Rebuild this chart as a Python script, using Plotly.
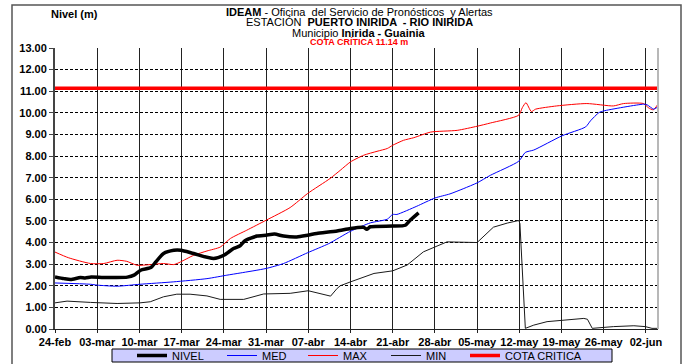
import pandas as pd
import plotly.graph_objects as go

# ---- datos (días contados desde el 24-feb) ----
inicio = pd.Timestamp("2011-02-24")

dias_nivel = [0, 1.5, 2.6, 4.2, 5, 6, 8, 10, 12, 13.1, 14.2, 15.9, 16.7, 18, 19.7,
              20.9, 23, 26.3, 28, 29.6, 30.7, 31.5, 33.5, 35, 36.4, 37.9, 40.1,
              41.9, 43.4, 46.8, 49, 51.2, 51.7, 52.3, 56, 58.1, 58.9, 60.3]
nivel = [2.41, 2.33, 2.29, 2.38, 2.36, 2.40, 2.38, 2.38, 2.40, 2.49, 2.72, 2.84,
         3.10, 3.49, 3.64, 3.64, 3.49, 3.26, 3.41, 3.72, 3.85, 4.08, 4.30, 4.34,
         4.39, 4.30, 4.26, 4.34, 4.42, 4.53, 4.65, 4.70, 4.61, 4.73, 4.76, 4.80,
         5.03, 5.37]

dias_med = [0, 5.9, 7, 10.3, 14.1, 19.6, 25.2, 28.5, 30.7, 35, 37.9, 41.9, 45.4,
            49, 52.3, 55.1, 56, 56.7, 60, 63, 65.5, 67.8, 70, 72.2, 76.9, 78,
            79.4, 84.1, 88, 88.8, 90.2, 91, 97.6, 98.2, 99.3, 100]
med = [2.13, 2.07, 2.03, 1.98, 2.07, 2.18, 2.33, 2.49, 2.59, 2.80, 3.03, 3.53,
       3.95, 4.52, 4.91, 5.08, 5.30, 5.30, 5.68, 6.06, 6.25, 6.50, 6.76, 7.11,
       7.76, 8.17, 8.28, 8.94, 9.35, 9.63, 10.01, 10.09, 10.40, 10.37, 10.17,
       10.28]

dias_max = [0, 2.2, 5.9, 8.1, 10.3, 11.9, 13.6, 15.8, 18, 19.7, 20.8, 23, 25.2,
            27.4, 29.1, 31.8, 35, 39, 41.9, 45.6, 47.3, 49, 51.2, 53.4, 55.1, 56,
            57.8, 59.5, 62.3, 66.7, 70, 72.2, 76.9, 77.5, 78.1, 79, 79.7, 83.2,
            88.2, 92.6, 94.3, 97.6, 98.4, 99.2, 100]
maximo = [3.56, 3.30, 3.03, 3.03, 3.18, 3.13, 2.95, 2.98, 3.03, 2.98, 3.10, 3.41,
          3.61, 3.79, 4.19, 4.57, 5.03, 5.62, 6.27, 6.96, 7.34, 7.73, 8.04, 8.22,
          8.35, 8.50, 8.73, 8.85, 9.11, 9.19, 9.38, 9.53, 9.89, 10.24, 10.47,
          10.06, 10.17, 10.32, 10.43, 10.32, 10.43, 10.43, 10.24, 10.14, 10.40]

dias_min = [0, 2, 5.9, 10.3, 14.1, 15.8, 18, 20.2, 22.4, 25.2, 27.4, 31.3, 34.6,
            39, 42, 45.7, 46.8, 47.3, 49, 51.2, 52.9, 56, 58.4, 61.1, 63, 65, 70,
            72.7, 75, 76.9, 77.1, 78, 79.4, 81.6, 87.7, 88.3, 89.1, 92.6, 96,
            97.9, 99, 100]
minimo = [1.21, 1.29, 1.23, 1.18, 1.21, 1.26, 1.49, 1.61, 1.61, 1.53, 1.37, 1.37,
          1.62, 1.65, 1.77, 1.52, 1.88, 2.00, 2.18, 2.42, 2.57, 2.69, 2.96, 3.57,
          3.80, 4.03, 4.00, 4.71, 4.90, 5.02, 4.88, 0.03, 0.18, 0.34, 0.49, 0.45,
          0.03, 0.11, 0.15, 0.11, 0.03, 0.03]

cota_critica = 11.14
dias_rango = [0, 100]

etiquetas_x = ["24-feb", "03-mar", "10-mar", "17-mar", "24-mar", "31-mar",
               "07-abr", "14-abr", "21-abr", "28-abr", "05-may", "12-may",
               "19-may", "26-may", "02-jun"]
valores_y = [0, 1, 2, 3, 4, 5, 6, 7, 8, 9, 10, 11, 12, 13]


def fechas(dias):
    return inicio + pd.to_timedelta(dias, unit="D")


W, H = 687, 364
ML, MR, MT, MB = 55, 29, 48, 35
PW, PH = W - ML - MR, H - MT - MB


def px(x):
    return (x - ML) / PW


def py(y):
    return (H - MB - y) / PH


FONT = "Arial, Liberation Sans, sans-serif"

fig = go.Figure()

fig.add_trace(go.Scatter(
    x=fechas(dias_rango), y=[cota_critica] * 2, name="COTA CRITICA",
    mode="lines", line=dict(color="#ff0000", width=3.5), legend="legend5"))
fig.add_trace(go.Scatter(
    x=fechas(dias_min), y=minimo, name="MIN", mode="lines",
    line=dict(color="#1a1a1a", width=1), legend="legend4"))
fig.add_trace(go.Scatter(
    x=fechas(dias_max), y=maximo, name="MAX", mode="lines",
    line=dict(color="#ff0000", width=1, shape="spline", smoothing=0.6),
    legend="legend3"))
fig.add_trace(go.Scatter(
    x=fechas(dias_med), y=med, name="MED", mode="lines",
    line=dict(color="#0000ff", width=1, shape="spline", smoothing=0.6),
    legend="legend2"))
fig.add_trace(go.Scatter(
    x=fechas(dias_nivel), y=nivel, name="NIVEL", mode="lines",
    line=dict(color="#000000", width=3.5, shape="spline", smoothing=0.6),
    legend="legend"))

ticks_x = [inicio + pd.Timedelta(days=7 * i) for i in range(len(etiquetas_x))]

fig.update_xaxes(
    type="date", range=[fechas([0])[0], fechas([100])[0]],
    tickvals=ticks_x, ticktext=etiquetas_x,
    showgrid=True, gridcolor="#222222", gridwidth=1,
    showline=True, linecolor="#222222", linewidth=1,
    ticks="outside", ticklen=3, tickcolor="#222222",
    tickfont=dict(family=FONT, size=11, color="#000000", weight="bold"),
    zeroline=False, fixedrange=True)
fig.update_yaxes(
    range=[0, 13], tickvals=valores_y,
    ticktext=[f"{v:.2f}" for v in valores_y],
    showgrid=True, gridcolor="#000000", gridwidth=1, griddash="3px,2px",
    showline=True, linecolor="#444444", linewidth=2,
    ticks="outside", ticklen=4, tickcolor="#444444",
    tickfont=dict(family=FONT, size=11, color="#000000", weight="bold"),
    zeroline=False, fixedrange=True)

shapes = [
    # marco exterior
    dict(type="rect", xref="paper", yref="paper",
         x0=px(12), x1=px(681), y0=py(390), y1=py(5),
         line=dict(color="#555555", width=1.5), layer="below"),
    # borde derecho del área de trazado
    dict(type="line", xref="paper", yref="paper", x0=1, x1=1, y0=0, y1=1,
         line=dict(color="#b8b8b8", width=2)),
    # fondo de la leyenda
    dict(type="rect", xref="paper", yref="paper",
         x0=px(112), x1=px(612), y0=py(362), y1=py(349),
         fillcolor="#ccccff", line=dict(color="#000000", width=1),
         layer="below"),
]

cx = px(359)
annotations = [
    dict(text="<b>IDEAM</b> - Oficina  del Servicio de Pronósticos  y Alertas",
         x=cx, y=py(12), font=dict(size=11)),
    dict(text="ESTACIÓN  <b>PUERTO INIRIDA  - RIO INIRIDA</b>",
         x=cx, y=py(22.5), font=dict(size=11)),
    dict(text="Municipio <b>Inirida - Guainia</b>",
         x=cx, y=py(33), font=dict(size=11)),
    dict(text="<b>COTA CRÍTICA 11.14 m</b>",
         x=cx, y=py(42.5), font=dict(size=9, color="#ff0000")),
    dict(text="<b>Nivel (m)</b>", x=px(74), y=py(14), font=dict(size=11)),
]
for a in annotations:
    a.update(xref="paper", yref="paper", showarrow=False, borderpad=0,
             xanchor="center", yanchor="middle")
    a["font"].setdefault("color", "#000000")
    a["font"]["family"] = FONT

# una leyenda por serie, repartidas a lo ancho del recuadro
inicio_texto = {"legend": 170, "legend2": 260, "legend3": 341,
                "legend4": 424, "legend5": 503}
leyendas = {}
for clave, xt in inicio_texto.items():
    leyendas[clave] = dict(
        orientation="h", x=px(xt - 38), y=py(355.5),
        xanchor="left", yanchor="middle",
        bgcolor="rgba(0,0,0,0)", borderwidth=0,
        font=dict(family=FONT, size=11, color="#000000"),
        itemwidth=30)

fig.update_layout(
    width=W, height=H,
    margin=dict(l=ML, r=MR, t=MT, b=MB, pad=0, autoexpand=False),
    paper_bgcolor="#ffffff", plot_bgcolor="#ffffff",
    font=dict(family=FONT, color="#000000"),
    shapes=shapes, annotations=annotations,
    showlegend=True, **leyendas,
)

fig.write_html("out.html")
